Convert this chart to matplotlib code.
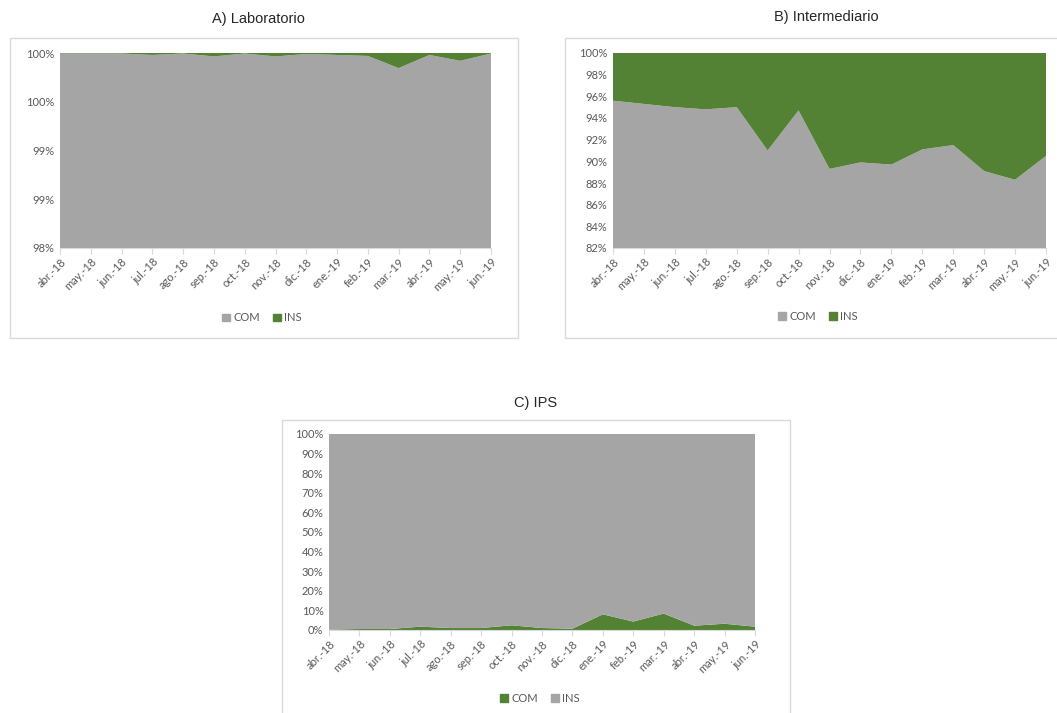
import matplotlib
matplotlib.use("Agg")
import matplotlib.pyplot as plt
from matplotlib.patches import Rectangle, Patch
from matplotlib.ticker import FuncFormatter

# months shared by all three panels
months = ["abr.-18", "may.-18", "jun.-18", "jul.-18", "ago.-18", "sep.-18", "oct.-18",
          "nov.-18", "dic.-18", "ene.-19", "feb.-19", "mar.-19", "abr.-19", "may.-19", "jun.-19"]

# share of COM (%) per month
lab_com = [99.995, 99.995, 99.995, 99.98, 99.995, 99.965, 99.995, 99.965,
           99.99, 99.98, 99.97, 99.845, 99.98, 99.92, 99.995]
int_com = [95.6, 95.3, 95.0, 94.8, 95.0, 91.0, 94.7, 89.3,
           89.9, 89.7, 91.1, 91.5, 89.1, 88.3, 90.5]
ips_com = [0.2, 0.5, 0.5, 1.7, 1.0, 1.0, 2.4, 1.0,
           0.7, 8.0, 4.3, 8.4, 2.2, 3.2, 1.7]

lab_ins = [100 - v for v in lab_com]
int_ins = [100 - v for v in int_com]
ips_ins = [100 - v for v in ips_com]

GREY = "#A5A5A5"
GREEN = "#548235"
LINE = "#D9D9D9"
TXT = "#595959"

W, H = 1057, 713
fig = plt.figure(figsize=(W / 100, H / 100), dpi=100)


def px_axes(x0, y0, x1, y1):
    # pixel box (top-left origin) -> figure axes
    return fig.add_axes([x0 / W, 1 - y1 / H, (x1 - x0) / W, (y1 - y0) / H])


def frame(x0, y0, x1, y1):
    fig.patches.append(Rectangle((x0 / W, 1 - y1 / H), (x1 - x0) / W, (y1 - y0) / H,
                                 transform=fig.transFigure, fill=False,
                                 edgecolor=LINE, lw=1))


def pct(v, pos):
    return f"{int(v + 0.5)}%"


def panel(box, plot, title, title_xy, series, colors, labels, ylim, yticks, leg_xy):
    frame(*box)
    ax = px_axes(*plot)
    x = list(range(len(months)))
    ax.stackplot(x, *series, colors=colors, linewidth=0)
    ax.set_xlim(0, len(months) - 1)
    ax.set_ylim(*ylim)
    ax.set_yticks(yticks)
    ax.yaxis.set_major_formatter(FuncFormatter(pct))
    ax.set_xticks(x)
    ax.set_xticklabels(months, rotation=45, ha="right", rotation_mode="anchor")
    for s in ["top", "right", "left"]:
        ax.spines[s].set_visible(False)
    ax.spines["bottom"].set_color(LINE)
    ax.tick_params(axis="y", length=0, labelsize=8, labelcolor=TXT, pad=4)
    ax.tick_params(axis="x", length=4, color=LINE, labelsize=8, labelcolor=TXT, pad=2)
    for t in ax.get_xticklabels() + ax.get_yticklabels():
        t.set_fontfamily("Lato")
    fig.text(title_xy[0] / W, 1 - title_xy[1] / H, title, ha="center", va="center",
             fontsize=10.5, family="Liberation Sans", color="#262626")
    handles = [Patch(color=c, label=l) for c, l in zip(colors, labels)]
    fig.legend(handles=handles, loc="center", ncol=2, frameon=False,
               bbox_to_anchor=(leg_xy[0] / W, 1 - leg_xy[1] / H),
               prop={"family": "Lato", "size": 8}, labelcolor=TXT,
               handlelength=0.7, handleheight=0.7, handletextpad=0.3, columnspacing=1.2)
    return ax


panel((10, 38, 518, 338), (60, 53, 491, 248), "A) Laboratorio", (258, 19),
      [lab_com, lab_ins], [GREY, GREEN], ["COM", "INS"],
      (98, 100), [98, 98.5, 99, 99.5, 100], (262, 318))

panel((565, 38, 1062, 338), (613, 53, 1046, 248), "B) Intermediario", (826, 17),
      [int_com, int_ins], [GREY, GREEN], ["COM", "INS"],
      (82, 100), list(range(82, 101, 2)), (818, 316))

panel((282, 420, 790, 720), (329, 434, 755, 630), "C) IPS", (536, 403),
      [ips_com, ips_ins], [GREEN, GREY], ["COM", "INS"],
      (0, 100), list(range(0, 101, 10)), (540, 698))

fig.savefig("out.png", dpi=100)
